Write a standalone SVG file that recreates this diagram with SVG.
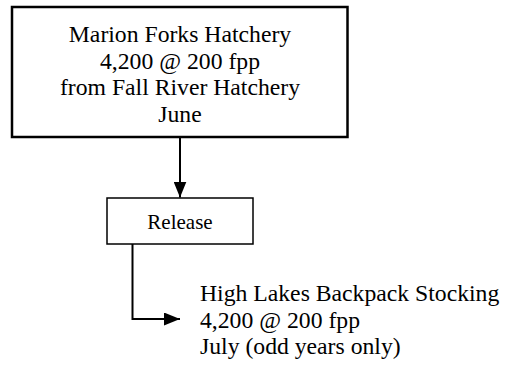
<svg xmlns="http://www.w3.org/2000/svg" width="507" height="368" viewBox="0 0 507 368">
<style>
text{font-family:"Liberation Serif","Times New Roman",serif;fill:#000}
.t{font-size:23.7px;text-anchor:middle}
.b{font-size:23.7px}
.box{fill:#fff;stroke:#000}
.ln{fill:none;stroke:#000;stroke-width:2}
</style>
<defs>
<marker id="ah" markerWidth="8" markerHeight="6.5" refX="8" refY="3.25" orient="auto" markerUnits="strokeWidth">
<path d="M0,0 L8,3.25 L0,6.5 Z" fill="#000"/>
</marker>
</defs>
<rect width="507" height="368" fill="#fff"/>
<g id="hatchery">
<rect class="box" x="12" y="7" width="335.5" height="130" stroke-width="2.5"/>
<text class="t" x="180" y="42">Marion Forks Hatchery</text>
<text class="t" x="180" y="68.5">4,200 @ 200 fpp</text>
<text class="t" x="180" y="95">from Fall River Hatchery</text>
<text class="t" x="180" y="121.5">June</text>
</g>
<g id="release">
<rect class="box" x="107" y="198" width="146" height="46" stroke-width="1.5"/>
<text x="180" y="228.5" font-size="21" text-anchor="middle">Release</text>
</g>
<g id="stocking">
<text class="b" x="200" y="301">High Lakes Backpack Stocking</text>
<text class="b" x="200" y="327.5">4,200 @ 200 fpp</text>
<text class="b" x="200" y="354">July (odd years only)</text>
</g>
<g id="connectors">
<path class="ln" d="M180,138 V197.5" marker-end="url(#ah)"/>
<path class="ln" d="M132.5,244 V319 H180" marker-end="url(#ah)"/>
</g>
</svg>
